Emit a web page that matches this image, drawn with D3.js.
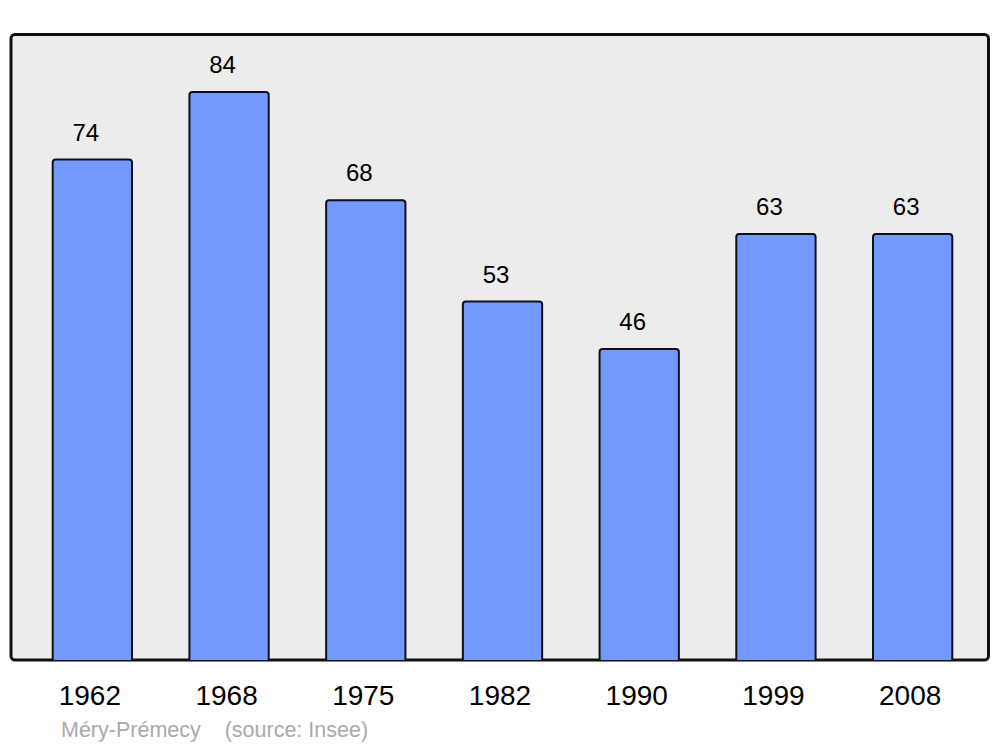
<!DOCTYPE html>
<html><head><meta charset="utf-8">
<script src="https://cdn.jsdelivr.net/npm/d3@7"></script>
<style>body{margin:0;background:#fff;}svg{display:block;}text{font-family:"Liberation Sans",Arial,sans-serif;}</style>
</head><body>
<svg id="c" width="1000" height="747"></svg>
<script>
const years = ["1962","1968","1975","1982","1990","1999","2008"];
const population = [74, 84, 68, 53, 46, 63, 63];
const title = "Méry-Prémecy";
const source = "(source: Insee)";

const svg = d3.select("#c");
svg.append("rect").attr("x",11).attr("y",34.5).attr("width",977.5).attr("height",625.5)
  .attr("rx",4).attr("fill","#ececec").attr("stroke","#111").attr("stroke-width",3);

const x = d3.scaleBand().domain(years).range([24,981]).paddingInner(0.42).paddingOuter(0.21);
const y = d3.scaleLinear().domain([0,84]).range([660,92]);

const r = 3;
svg.selectAll("path.bar").data(years).join("path").attr("class","bar")
  .attr("d",(d,i)=>{
    const x0=x(d), x1=x(d)+x.bandwidth(), y0=y(population[i]), yb=y(0);
    return `M${x0},${yb}V${y0+r}Q${x0},${y0} ${x0+r},${y0}H${x1-r}Q${x1},${y0} ${x1},${y0+r}V${yb}`;
  })
  .attr("fill","#7399ff").attr("stroke","#111").attr("stroke-width",2);

svg.selectAll("text.val").data(years).join("text").attr("class","val")
  .attr("x",d=>x(d)+x.bandwidth()/2-6.5)
  .attr("y",(d,i)=>y(population[i])-19)
  .attr("text-anchor","middle").attr("font-size",24).attr("fill","#000")
  .text((d,i)=>population[i]);

const xAxis = d3.axisBottom(x).tickSize(0).tickPadding(0);
const gx = svg.append("g").attr("transform","translate(-2.5,685)").call(xAxis);
gx.select(".domain").remove();
gx.selectAll("text").attr("font-size",28).attr("fill","#000").attr("dy","0.71em")
  .style("font-family",'"Liberation Sans",Arial,sans-serif');

svg.append("text").attr("x",61).attr("y",737).attr("font-size",21.5).attr("fill","#aaa")
  .attr("xml:space","preserve").text(title + "    " + source);
</script>
</body></html>
